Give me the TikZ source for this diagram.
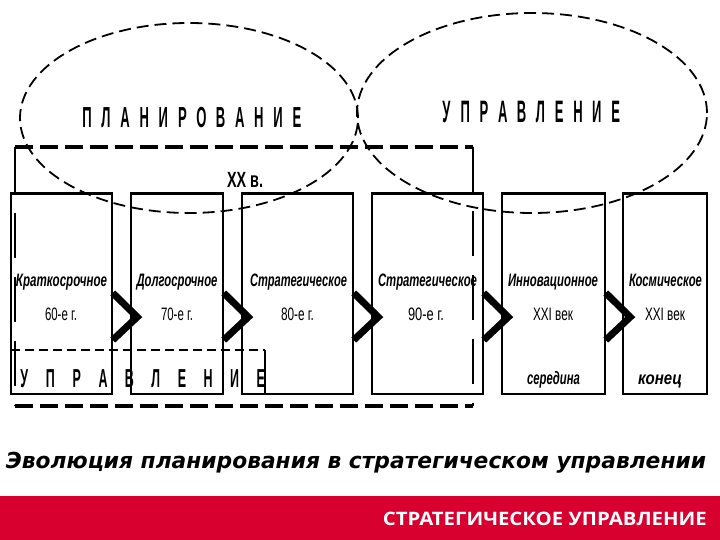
\documentclass[tikz,border=0pt]{standalone}
\usepackage{fontspec}
\setmainfont{Liberation Sans}
\newfontfamily\capfont{DejaVu Sans}
\newfontfamily\bandfont{Open Sans}
\usetikzlibrary{shapes.geometric,calc}
\definecolor{bandred}{HTML}{D7002F}
\newcommand\fw[2]{\resizebox{#1}{\height}{#2}}
\newcommand\lA[1]{\makebox[19.1pt][c]{\scalebox{0.45}[1]{#1}}}
\newcommand\lB[1]{\makebox[18.8pt][c]{\scalebox{0.42}[1]{#1}}}
\newcommand\lC[1]{\makebox[26.3pt][c]{\scalebox{0.48}[1]{#1}}}
\begin{document}
\begin{tikzpicture}[x=1pt,y=-1pt,
  ell/.style={draw, ellipse, line width=1.8pt, dash pattern=on 12pt off 6pt, inner sep=0pt},
  box/.style={draw, line width=1.5pt, inner sep=0pt, minimum height=200pt},
  boxtop/.style={line width=3pt},
  chev/.style={line width=7pt, miter limit=10},
  frametb/.style={line width=4.5pt, dash pattern=on 18pt off 7pt},
  frameside/.style={line width=2.5pt, dash pattern=on 45pt off 19pt},
  thindash/.style={line width=1.6pt, dash pattern=on 9pt off 5pt},
  ttl/.style={font=\bfseries\itshape\fontsize{18}{18}\selectfont, inner sep=0pt, anchor=base},
  sub/.style={font=\fontsize{18}{18}\selectfont, inner sep=0pt, anchor=base},
  bigA/.style={font=\bfseries\fontsize{29}{29}\selectfont, inner sep=0pt, anchor=base},
  bigB/.style={font=\bfseries\fontsize{31}{31}\selectfont, inner sep=0pt, anchor=base},
  bigC/.style={font=\bfseries\fontsize{26}{26}\selectfont, inner sep=0pt, anchor=base},
]
\useasboundingbox (0,0) rectangle (720,540);
\fill[white] (0,0) rectangle (720,540);

% red band
\fill[bandred] (0,496) rectangle (720,540);
\node[font=\bandfont\bfseries\fontsize{18.5}{18.5}\selectfont, text=white, inner sep=0pt, anchor=base east] (band) at (707,525) {\fw{324pt}{СТРАТЕГИЧЕСКОЕ УПРАВЛЕНИЕ}};

% caption
\node[font=\capfont\bfseries\itshape\fontsize{22}{22}\selectfont, inner sep=0pt, anchor=base] (cap) at (356,468) {\fw{700pt}{Эволюция планирования в стратегическом управлении}};

% boxes
\node[box, minimum width=101pt] (b1) at (61.5,294) {};
\node[box, minimum width=92pt]  (b2) at (177,294) {};
\node[box, minimum width=111pt] (b3) at (297.5,294) {};
\node[box, minimum width=111pt] (b4) at (427.5,294) {};
\node[box, minimum width=103pt] (b5) at (553.5,294) {};
\node[box, minimum width=84pt]  (b6) at (665,294) {};
\foreach \b in {b1,b2,b3,b4,b5,b6}
  \draw[boxtop] (\b.north west) -- (\b.north east);

% box texts
\node[ttl] (t1) at (61.5,286) {\fw{91pt}{Краткосрочное}};
\node[ttl] (t2) at (177,286) {\fw{81pt}{Долгосрочное}};
\node[ttl] (t3) at (298.5,286) {\fw{97pt}{Стратегическое}};
\node[ttl] (t4) at (427.5,286) {\fw{99pt}{Стратегическое}};
\node[ttl] (t5) at (553,286) {\fw{90pt}{Инновационное}};
\node[ttl] (t6) at (665.5,286) {\fw{73pt}{Космическое}};
\node[sub] (s1) at (61,320) {\fw{32pt}{60-е г.}};
\node[sub] (s2) at (177,320) {\fw{32pt}{70-е г.}};
\node[sub] (s3) at (297.5,320) {\fw{33pt}{80-е г.}};
\node[sub] (s4) at (426,320) {\fw{36pt}{90-е г.}};
\node[sub] (s5) at (553,320) {\fw{40pt}{XXI век}};
\node[sub] (s6) at (665,320) {\fw{40pt}{XXI век}};
\node[ttl] (e5) at (553.5,384) {\fw{53pt}{середина}};
\node[ttl] (e6) at (660,384) {\fw{44pt}{конец}};

% chevrons
\draw[chev] ($(b1.east)+(0,-1)$) -- ($(b2.west)+(7,23)$) -- ($(b1.east)+(0,46)$);
\draw[chev] ($(b2.east)+(0,-1)$) -- ($(b3.west)+(7,23)$) -- ($(b2.east)+(0,46)$);
\draw[chev] ($(b3.east)+(0,-1)$) -- ($(b4.west)+(7,23)$) -- ($(b3.east)+(0,46)$);
\draw[chev] ($(b4.east)+(0,-1)$) -- ($(b5.west)+(7,23)$) -- ($(b4.east)+(0,46)$);
\draw[chev] ($(b5.east)+(0,-1)$) -- ($(b6.west)+(8,23)$) -- ($(b5.east)+(0,46)$);

% ellipses
\node[ell, minimum width=338pt, minimum height=190pt] (plan) at (189,118) {};
\node[ell, minimum width=350pt, minimum height=200pt] (upr) at (532,113) {};
\node[bigA] (planT) at (192,128) {\lA{П}\lA{Л}\lA{А}\lA{Н}\lA{И}\lA{Р}\lA{О}\lA{В}\lA{А}\lA{Н}\lA{И}\lA{Е}};
\node[bigB] (uprT) at (531,123) {\lB{У}\lB{П}\lB{Р}\lB{А}\lB{В}\lB{Л}\lB{Е}\lB{Н}\lB{И}\lB{Е}};

% XX century frame
\coordinate (fa) at (15,147);
\coordinate (fb) at (473,147);
\coordinate (fc) at (473,406);
\coordinate (fd) at (15,406);
\coordinate (fe) at (15,194);
\draw[frametb] (fa) -- (fb);
\draw[frametb] (fd) -- (fc);
\draw[frameside] (fb) -- (fc);
\draw[line width=2.5pt] (fa) -- (fe);
\draw[frameside, dash phase=45pt] (fe) -- (fd);
\node[font=\bfseries\fontsize{22}{22}\selectfont, inner sep=0pt, anchor=base] (xx) at (245,188) {\fw{36pt}{ХХ в.}};

% lower management frame
\coordinate (ga) at (11,350);
\coordinate (gb) at (265,350);
\coordinate (gc) at (265,394);
\draw[thindash] (ga) -- (gb);
\draw[line width=1.5pt] (gb) -- (gc);
\node[bigC] (uprB) at (142.5,387) {\lC{У}\lC{П}\lC{Р}\lC{А}\lC{В}\lC{Л}\lC{Е}\lC{Н}\lC{И}\lC{Е}};
\end{tikzpicture}
\end{document}
